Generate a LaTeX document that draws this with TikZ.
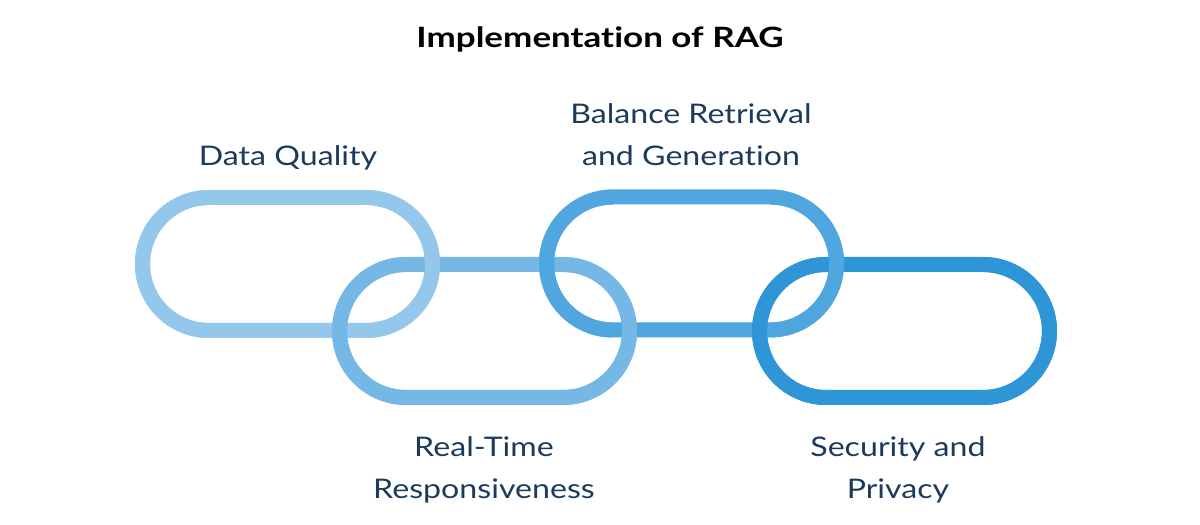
\documentclass[tikz,border=0pt]{standalone}
\usepackage{fontspec}
\setmainfont{Lato}[Ligatures=NoCommon]
\newfontfamily\lblfont{Lato}[FakeStretch=1.19,Ligatures=NoCommon]
\newfontfamily\ttlfont{Lato}[FakeStretch=1.25,Ligatures=NoCommon]
\definecolor{cA}{HTML}{93C8EC}
\definecolor{cB}{HTML}{75B8E6}
\definecolor{cC}{HTML}{50A7E0}
\definecolor{cD}{HTML}{2E95D6}
\definecolor{navy}{HTML}{1B3A5C}
\begin{document}
\begin{tikzpicture}[x=1pt,y=1pt,
  linkline/.style={line width=15pt},
  lbl/.style={text=navy,align=center,font=\lblfont\fontsize{27}{42}\selectfont},
  ttl/.style={text=black,font=\ttlfont\fontsize{28}{34}\selectfont\bfseries}]
\useasboundingbox (0,0) rectangle (1200,525);
\def\hw{78.5}
\def\rr{66.5}
% full links in order
\foreach \cx/\cy/\col in {287.5/261/cA,484.5/194/cB,691.5/261.5/cC,904.5/194/cD}{
  \draw[linkline,draw=\col] (\cx-\hw,\cy+\rr) -- (\cx+\hw,\cy+\rr)
    arc[start angle=90,end angle=-90,radius=66.5pt]
    -- (\cx-\hw,\cy-\rr) arc[start angle=270,end angle=90,radius=66.5pt] -- cycle;
}
% arcs pass over straight parts (interlocking)
\foreach \cx/\cy/\col in {287.5/261/cA,484.5/194/cB,691.5/261.5/cC,904.5/194/cD}{
  \draw[linkline,draw=\col] (\cx+\hw,\cy+\rr) arc[start angle=90,end angle=-90,radius=66.5pt];
  \draw[linkline,draw=\col] (\cx-\hw,\cy-\rr) arc[start angle=270,end angle=90,radius=66.5pt];
}
\node[ttl] (title) at (600,486) {Implementation of RAG};
\node[lbl] (dq) at (288,367.5) {Data Quality};
\node[lbl] (brg) at (691,390) {Balance Retrieval\\and Generation};
\node[lbl] (rtr) at (484,55) {Real-Time\\Responsiveness};
\node[lbl] (sp) at (898,55) {Security and\\Privacy};
\end{tikzpicture}
\end{document}
